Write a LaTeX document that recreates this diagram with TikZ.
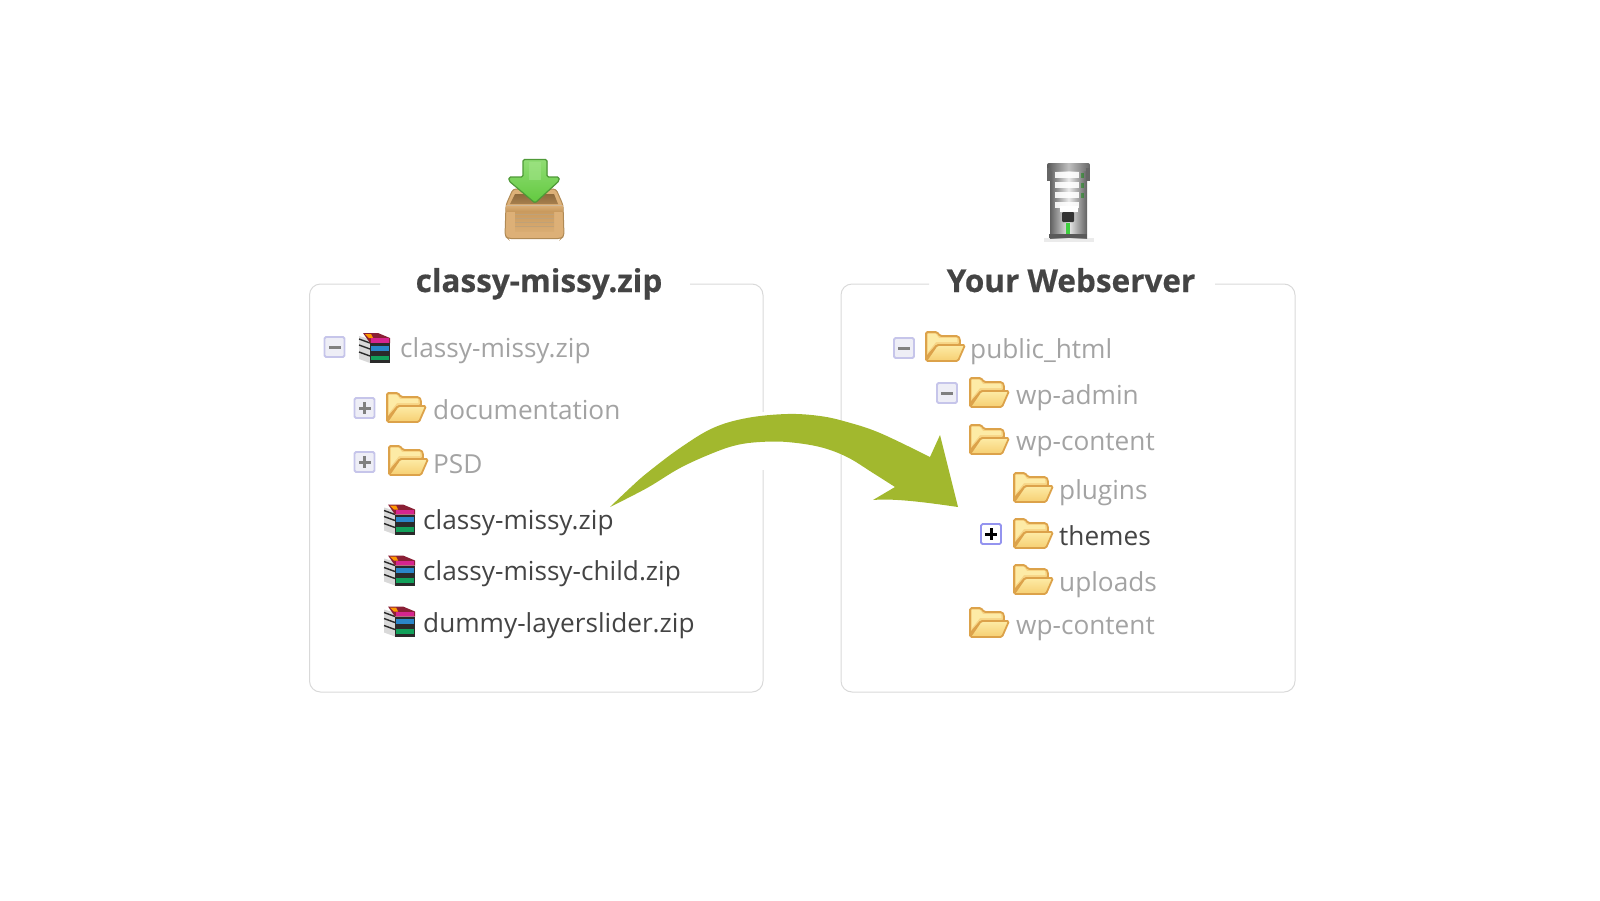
\documentclass[tikz,border=0pt]{standalone}
\usepackage{fontspec}
\setmainfont{Open Sans}
\newfontfamily\titlefont[BoldFeatures={FakeBold=0.5}]{Open Sans}
\definecolor{boxline}{HTML}{D9D9D9}
\definecolor{lighttext}{HTML}{A3A3A3}
\definecolor{darktext}{HTML}{444444}
\definecolor{titletext}{HTML}{444444}
\definecolor{arrowgreen}{HTML}{A2B82E}
\definecolor{foldedge}{HTML}{DCA24A}
\definecolor{foldback}{HTML}{F7D586}
\definecolor{foldfront}{HTML}{FDEBA6}
\definecolor{foldlow}{HTML}{F6CF72}
\definecolor{togfill}{HTML}{EEEEF6}
\definecolor{togline}{HTML}{C6C5EA}
\definecolor{cratetan}{HTML}{DDB077}
\definecolor{crateedge}{HTML}{B08A55}
\definecolor{cratein}{HTML}{8F6A3C}
\definecolor{cratelow}{HTML}{C99A5E}
\definecolor{greenhi}{HTML}{A3E58A}
\definecolor{greenmid}{HTML}{62C93F}
\definecolor{greenedge}{HTML}{4F9A38}
\definecolor{pagegray}{HTML}{D9D9D9}
\definecolor{bookdark}{HTML}{2A2A2A}
\definecolor{bookred}{HTML}{8A1F35}
\definecolor{bookpink}{HTML}{D6258F}
\definecolor{bookblue}{HTML}{2A86C9}
\definecolor{bookgreen}{HTML}{12A05A}
\tikzset{
  panel/.style={draw=boxline,line width=1pt,rounded corners=11pt},
  title/.style={anchor=base,inner sep=0pt,text=titletext,font=\fontsize{31.5}{36}\titlefont\bfseries},
  dim/.style={anchor=base west,inner sep=0pt,text=lighttext,font=\fontsize{26.2}{32}\selectfont},
  dark/.style={anchor=base west,inner sep=0pt,text=darktext,font=\fontsize{26.2}{32}\selectfont},
  folder/.pic={
    \filldraw[draw=foldedge,fill=foldback,line width=1.8pt,rounded corners=1.5pt] (-19,-15) -- (-8,-15) -- (-5,-11) -- (13,-11) -- (15,-8) -- (15,-2) -- (-8,-2) -- (-18.5,10) -- (-19,14) -- cycle;
    \fill[foldfront] (-17,-13) -- (-9,-13) -- (-6,-9) -- (12,-9) -- (12.5,-5) -- (-9,-5) -- (-17,5) -- cycle;
    \shade[draw=foldedge,line width=1.8pt,top color=foldfront,bottom color=foldlow,rounded corners=1.5pt] (-8,-2) -- (20,-2) -- (13,14) -- (-19,14) -- cycle;
  },
  zipicon/.pic={
    % pages on the left
    \fill[pagegray] (-15,-12) -- (-4,-9) -- (-4,15) -- (-15,11) -- cycle;
    \foreach \yy in {-8,-2,5} \draw[bookdark,line width=1.4pt] (-15,\yy-1) -- (-4,\yy+3);
    % top book
    \fill[bookred] (-11,-15) -- (4,-15) -- (16,-10) -- (16,-5) -- (-4,-5) -- cycle;
    \fill[orange!80!yellow] (-9,-14) -- (-3,-14) -- (-1,-10) -- (-5,-10) -- cycle;
    \fill[bookpink] (-3,-10) -- (15,-10) -- (15,-5.5) -- (-3,-5.5) -- cycle;
    % middle book
    \fill[bookdark] (-4,-5) -- (16,-5) -- (16,5) -- (-4,5) -- cycle;
    \fill[bookblue] (-3,-2.5) -- (15,-2.5) -- (15,2.5) -- (-3,2.5) -- cycle;
    % bottom book
    \fill[bookdark] (-4,5) -- (16,5) -- (16,15) -- (-4,15) -- cycle;
    \fill[bookgreen] (-3,7.5) -- (15,7.5) -- (15,12) -- (-3,12) -- cycle;
  },
  minusbox/.pic={
    \draw[togline,fill=togfill,line width=1.8pt,rounded corners=1.5pt] (-10,-10) rectangle (10,10);
    \fill[gray] (-6,-1.5) rectangle (6,1.5);
  },
  plusbox/.pic={
    \draw[togline,fill=togfill,line width=1.8pt,rounded corners=1.5pt] (-10,-10) rectangle (10,10);
    \fill[gray] (-6,-1.5) rectangle (6,1.5);
    \fill[gray] (-1.5,-6) rectangle (1.5,6);
  },
  darkplusbox/.pic={
    \draw[togline!75!blue,fill=white,line width=1.8pt,rounded corners=1.5pt] (-10,-10) rectangle (10,10);
    \fill[black] (-6,-1.5) rectangle (6,1.5);
    \fill[black] (-1.5,-6) rectangle (1.5,6);
  },
}
\begin{document}
\begin{tikzpicture}[x=1pt,y=-1pt]
\useasboundingbox (0,0) rectangle (1600,900);
% panels
\draw[panel] (380,284) -- (309.5,284) -- (309.5,692) -- (763,692) -- (763,284) -- (690,284);
\draw[panel] (929,284) -- (841,284) -- (841,692) -- (1295,692) -- (1295,284) -- (1215,284);
\node[title] (lefttitle) at (539,292) {classy-missy.zip};
\node[title] (righttitle) at (1071,292) {Your Webserver};
% crate icon
\filldraw[draw=crateedge,line width=1pt,fill=cratetan,rounded corners=3pt] (513,189) -- (556,189) -- (563,205) -- (564,236) -- (561,238.5) -- (508,238.5) -- (505,236) -- (506,205) -- cycle;
\shade[top color=cratein,bottom color=cratein!70!cratetan] (515,194) -- (554,194) -- (558,204) -- (510,204) -- cycle;
\shade[top color=cratetan,bottom color=cratelow] (506,205) rectangle (563,211);
\shade[top color=cratelow,bottom color=cratetan!80!cratelow] (515,211) rectangle (554,231);
\foreach \yy in {214,218,222,226} \draw[crateedge!80,line width=.8pt] (515,\yy) -- (554,\yy);
\draw[crateedge!60,line width=.8pt] (507,205.5) -- (562,205.5);
\filldraw[draw=greenedge,line width=1.2pt,rounded corners=1.5pt,top color=greenhi!70!greenmid,bottom color=greenmid]
  (523,159.5) -- (547,159.5) -- (547,177) -- (559,177) -- (559,181) -- (535,203) -- (509,181) -- (509,177) -- (523,177) -- cycle;
\fill[greenhi,opacity=.55] (529,162) rectangle (541,180);
% server icon
\fill[black!8] (1044,238) rectangle (1094,242);
\shade[left color=black!62,right color=black!62,middle color=black!8] (1050,168) rectangle (1087,238);
\shade[left color=black!65,right color=black!60,middle color=black!25,rounded corners=2pt] (1047,163) rectangle (1090,171);
\fill[black!60] (1047,168) rectangle (1051,181);
\fill[black!60] (1086,168) rectangle (1090,181);
\foreach \yy in {172,182,192,202} \fill[white,opacity=.9] (1055,\yy) rectangle (1079,\yy+6);
\foreach \yy in {173,183,193} \fill[green!55!black,opacity=.45] (1081,\yy) rectangle (1084,\yy+5);
\fill[white] (1060,206) rectangle (1078,212);
\fill[black!80,rounded corners=1pt] (1062,212) rectangle (1074,222);
\fill[green!75!black!75] (1066,223) rectangle (1070,234);
\fill[black!65] (1049,234) rectangle (1087,238);
% left tree
\pic (tl0) at (334.5,347) {minusbox};
\pic (zl0) at (374,348) {zipicon};
\node[dim] (l0) at (400,357) {classy-missy.zip};
\pic (tl1) at (364.5,408) {plusbox};
\pic (fl1) at (406,408) {folder};
\node[dim] (l1) at (433,419) {documentation};
\pic (tl2) at (364.5,462) {plusbox};
\pic (fl2) at (408,461) {folder};
\node[dim] (l2) at (433,473.5) {PSD};
\pic (zl3) at (399,519.5) {zipicon};
\node[dark] (l3) at (423,529.5) {classy-missy.zip};
\pic (zl4) at (399,570.5) {zipicon};
\node[dark] (l4) at (423,580.5) {classy-missy-child.zip};
\pic (zl5) at (399,621.5) {zipicon};
\node[dark] (l5) at (423,632) {dummy-layerslider.zip};
% right tree
\pic (tr0) at (904,348) {minusbox};
\pic (fr0) at (945,347) {folder};
\node[dim] (r0) at (970,358) {public\_html};
\pic (tr1) at (947,393) {minusbox};
\pic (fr1) at (989,393) {folder};
\node[dim] (r1) at (1016,404) {wp-admin};
\pic (fr2) at (989,440) {folder};
\node[dim] (r2) at (1016,450) {wp-content};
\pic (fr3) at (1033,488) {folder};
\node[dim] (r3) at (1059,499.5) {plugins};
\pic (tr4) at (991,534) {darkplusbox};
\pic (fr4) at (1033,534) {folder};
\node[dark] (r4) at (1059,545.5) {themes};
\pic (fr5) at (1033,580) {folder};
\node[dim] (r5) at (1059,591.5) {uploads};
\pic (fr6) at (989,623) {folder};
\node[dim] (r6) at (1016,634) {wp-content};
% big arrow
\fill[white] (755,412) rectangle (770,470);
\fill[arrowgreen]
  plot[smooth,tension=.6] coordinates {(610,507) (630,488) (647,473) (680,448) (713,428) (747,418) (787,414) (820,416) (847,422) (880,433) (930,457)}
  -- (940,435) -- (958,507)
  .. controls (930,503) and (895,498) .. (873,500)
  -- (895,487)
  -- plot[smooth,tension=.6] coordinates {(895,487) (873,473) (847,457) (820,447) (787,442) (760,442) (737,445) (713,453) (680,468) (647,488) (610,507)}
  -- cycle;
\end{tikzpicture}
\end{document}
